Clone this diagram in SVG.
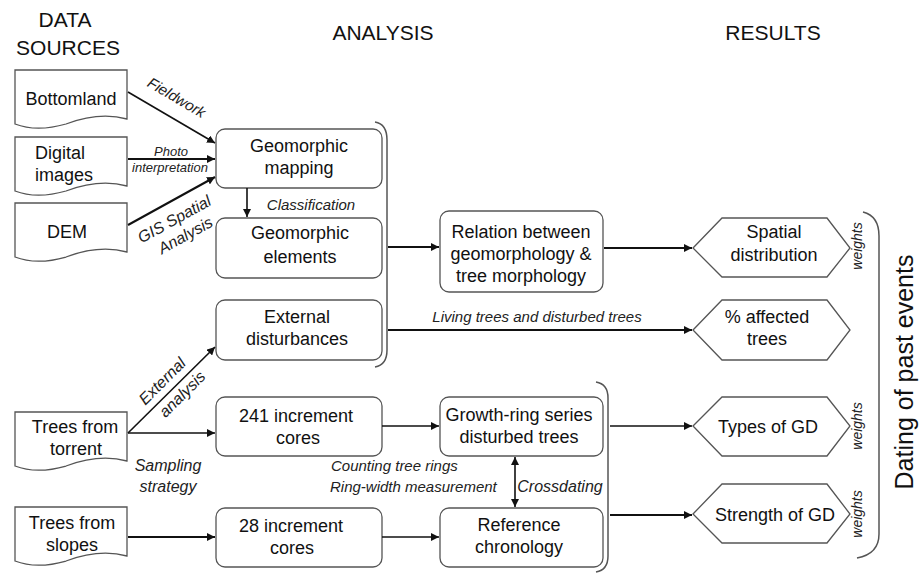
<svg xmlns="http://www.w3.org/2000/svg" width="919" height="574" viewBox="0 0 919 574">
<defs>
<marker id="ah" viewBox="0 0 10 10" refX="10" refY="5" markerWidth="8" markerHeight="8" markerUnits="userSpaceOnUse" orient="auto-start-reverse">
<path d="M0,0 L10,5 L0,10 z" fill="#111"/>
</marker>
<style>
.t{font-family:"Liberation Sans",Arial,sans-serif;font-size:18px;fill:#111;text-anchor:middle}
.h{font-family:"Liberation Sans",Arial,sans-serif;font-size:21px;fill:#111;text-anchor:middle}
.i{font-family:"Liberation Sans",Arial,sans-serif;font-size:15px;font-style:italic;fill:#222;text-anchor:middle}
.s{font-family:"Liberation Sans",Arial,sans-serif;font-size:13px;font-style:italic;fill:#222;text-anchor:middle}
.box{fill:#fff;stroke:#555;stroke-width:1.3}
.ln{fill:none;stroke:#111;stroke-width:1.6}
.br{fill:none;stroke:#555;stroke-width:1.5}
</style>
</defs>
<rect width="919" height="574" fill="#fff"/>

<g id="headers">
<text class="h" x="65" y="27">DATA</text>
<text class="h" x="68" y="55">SOURCES</text>
<text class="h" x="383" y="40">ANALYSIS</text>
<text class="h" x="773" y="40">RESULTS</text>
</g>

<g id="bottomland">
<path class="box" d="M15,70 H127 V119 C105,113 82,118 66,124 C45,130 28,129 15,124 Z"/>
<text class="t" x="71" y="105">Bottomland</text>
</g>
<g id="digital-images">
<path class="box" d="M15,137 H127 V186 C105,180 82,185 66,191 C45,197 28,196 15,191 Z"/>
<text class="t" x="35" y="159" style="text-anchor:start">Digital</text>
<text class="t" x="35" y="181" style="text-anchor:start">images</text>
</g>
<g id="dem">
<path class="box" d="M15,203 H127 V252 C105,246 82,251 66,257 C45,263 28,262 15,257 Z"/>
<text class="t" x="67" y="238">DEM</text>
</g>
<g id="trees-torrent">
<path class="box" d="M15,412 H127 V461 C105,455 82,460 66,466 C45,472 28,471 15,466 Z"/>
<text class="t" x="75" y="433">Trees from</text>
<text class="t" x="76" y="455">torrent</text>
</g>
<g id="trees-slopes">
<path class="box" d="M15,507 H127 V556 C105,550 82,555 66,561 C45,567 28,566 15,561 Z"/>
<text class="t" x="72" y="529">Trees from</text>
<text class="t" x="72" y="551">slopes</text>
</g>

<g id="geomorphic-mapping">
<rect class="box" x="216" y="129" width="166" height="59" rx="9"/>
<text class="t" x="299" y="152">Geomorphic</text>
<text class="t" x="299" y="174">mapping</text>
</g>
<g id="geomorphic-elements">
<rect class="box" x="216" y="218" width="166" height="60" rx="9"/>
<text class="t" x="300" y="239">Geomorphic</text>
<text class="t" x="300" y="263">elements</text>
</g>
<g id="external-disturbances">
<rect class="box" x="216" y="300" width="166" height="60" rx="9"/>
<text class="t" x="297" y="323">External</text>
<text class="t" x="297" y="345">disturbances</text>
</g>
<g id="cores-241">
<rect class="box" x="216" y="397" width="166" height="59" rx="9"/>
<text class="t" x="296" y="422">241 increment</text>
<text class="t" x="298" y="444">cores</text>
</g>
<g id="cores-28">
<rect class="box" x="216" y="508" width="166" height="59" rx="9"/>
<text class="t" x="291" y="532">28 increment</text>
<text class="t" x="292" y="554">cores</text>
</g>
<g id="relation">
<rect class="box" x="440" y="211" width="163" height="81" rx="9"/>
<text class="t" x="521" y="238">Relation between</text>
<text class="t" x="521" y="260">geomorphology &amp;</text>
<text class="t" x="521" y="282">tree morphology</text>
</g>
<g id="growth-ring">
<rect class="box" x="440" y="397" width="163" height="59" rx="9"/>
<text class="t" x="519" y="421">Growth-ring series</text>
<text class="t" x="519" y="443">disturbed trees</text>
</g>
<g id="reference-chronology">
<rect class="box" x="440" y="508" width="163" height="59" rx="9"/>
<text class="t" x="519" y="531">Reference</text>
<text class="t" x="519" y="553">chronology</text>
</g>

<g id="spatial-distribution">
<path class="box" d="M693,248 L722,218 H827 L850,248 L827,277 H722 Z"/>
<text class="t" x="774" y="238">Spatial</text>
<text class="t" x="774" y="261">distribution</text>
</g>
<g id="affected-trees">
<path class="box" d="M693,330 L722,300 H827 L850,330 L827,360 H722 Z"/>
<text class="t" x="767" y="323">% affected</text>
<text class="t" x="767" y="345">trees</text>
</g>
<g id="types-gd">
<path class="box" d="M693,426 L722,397 H827 L850,426 L827,456 H722 Z"/>
<text class="t" x="768" y="433">Types of GD</text>
</g>
<g id="strength-gd">
<path class="box" d="M693,514 L722,484 H827 L850,514 L827,543 H722 Z"/>
<text class="t" x="775" y="521">Strength of GD</text>
</g>

<g id="connectors">
<line class="ln" x1="128" y1="92" x2="215" y2="143" marker-end="url(#ah)"/>
<line class="ln" x1="128" y1="159" x2="215" y2="159" marker-end="url(#ah)" style="stroke-width:2.2"/>
<line class="ln" x1="128" y1="225" x2="215" y2="177" marker-end="url(#ah)" style="stroke-width:2"/>
<line class="ln" x1="247" y1="188" x2="247" y2="217" marker-end="url(#ah)"/>
<line class="ln" x1="128" y1="433" x2="215" y2="347" marker-end="url(#ah)"/>
<line class="ln" x1="128" y1="433" x2="215" y2="433" marker-end="url(#ah)"/>
<line class="ln" x1="128" y1="537" x2="215" y2="537" marker-end="url(#ah)" style="stroke-width:2"/>
<line class="ln" x1="382" y1="426" x2="439" y2="426" marker-end="url(#ah)"/>
<line class="ln" x1="382" y1="537" x2="439" y2="537" marker-end="url(#ah)"/>
<line class="ln" x1="388" y1="247" x2="439" y2="247" marker-end="url(#ah)" style="stroke-width:2"/>
<line class="ln" x1="604" y1="248" x2="692" y2="248" marker-end="url(#ah)" style="stroke-width:2"/>
<line class="ln" x1="388" y1="330" x2="692" y2="330" marker-end="url(#ah)" style="stroke-width:2"/>
<line class="ln" x1="610" y1="426" x2="692" y2="426" marker-end="url(#ah)"/>
<line class="ln" x1="610" y1="515" x2="692" y2="515" marker-end="url(#ah)" style="stroke-width:2"/>
<line class="ln" x1="515" y1="457" x2="515" y2="507" marker-start="url(#ah)" marker-end="url(#ah)"/>
<path class="br" d="M375,122 Q387,124 387,140 V350 Q387,365 375,367"/>
<path class="br" d="M596,382 Q608,384 608,398 V556 Q608,570 596,572"/>
<path class="br" d="M863,212 Q879,216 879,236 V534 Q879,554 857,558"/>
</g>

<g id="labels">
<text class="i" transform="translate(174,102) rotate(30.4)">Fieldwork</text>
<text class="s" x="171" y="156">Photo</text>
<text class="s" x="170" y="172">interpretation</text>
<text class="i" transform="translate(177,224) rotate(-29)" style="font-size:16px">GIS Spatial</text>
<text class="i" transform="translate(188,240) rotate(-29)" style="font-size:16px">Analysis</text>
<text class="i" x="311" y="210">Classification</text>
<text class="i" transform="translate(166,385) rotate(-44.7)" style="font-size:16px">External</text>
<text class="i" transform="translate(186,398) rotate(-44.7)" style="font-size:16px">analysis</text>
<text class="i" x="168" y="471" style="font-size:16px">Sampling</text>
<text class="i" x="168" y="492" style="font-size:16px">strategy</text>
<text class="i" x="331" y="471" style="text-anchor:start">Counting tree rings</text>
<text class="i" x="330" y="492" style="text-anchor:start">Ring-width measurement</text>
<text class="i" x="560" y="492" style="font-size:16px">Crossdating</text>
<text class="i" x="537" y="322">Living trees and disturbed trees</text>
<text class="s" transform="translate(862,246) rotate(-90)" style="font-size:14px">weights</text>
<text class="s" transform="translate(862,426) rotate(-90)" style="font-size:14px">weights</text>
<text class="s" transform="translate(862,514) rotate(-90)" style="font-size:14px">weights</text>
<text class="h" transform="translate(913,372) rotate(-90)" style="font-size:25px">Dating of past events</text>
</g>
</svg>
